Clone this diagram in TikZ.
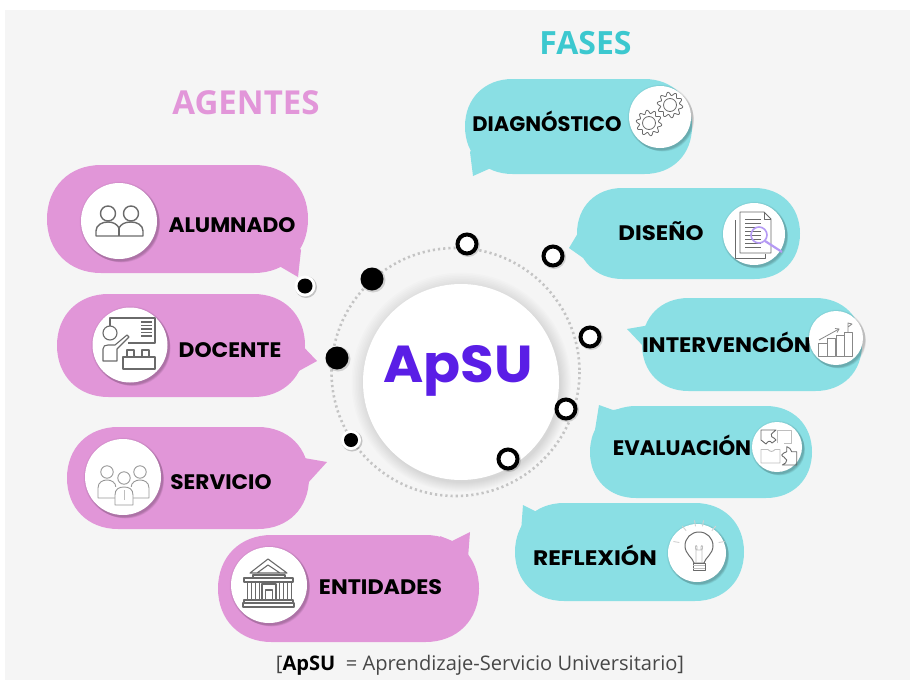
\documentclass[tikz,border=0pt]{standalone}
\usepackage{fontspec}
\setmainfont{Open Sans}
\newfontfamily\popp{Poppins}[UprightFont=* Bold,BoldFont=* Bold]
\usetikzlibrary{calc}
\definecolor{pinkb}{HTML}{E196D8}
\definecolor{tealb}{HTML}{8ADFE4}
\definecolor{pinkt}{HTML}{E296D9}
\definecolor{tealt}{HTML}{3CC8CF}
\definecolor{bgc}{HTML}{F5F5F5}
\definecolor{purp}{HTML}{5A1EE6}
\definecolor{icon}{HTML}{6A6A6A}
\definecolor{iconl}{HTML}{BEBEBE}
\definecolor{ringd}{HTML}{C4C4C4}
\tikzset{
  x=1pt,y=-1pt,
  bublab/.style={font=\popp\fontsize{21}{21}\selectfont,text=black,inner sep=0pt,anchor=base},
  ic/.style={draw=icon,line width=1.1pt,line join=round,fill=none},
  icl/.style={draw=iconl,line width=0.9pt,line join=round,fill=none},
  openring/.style={circle,draw=black,line width=4pt,fill=white,minimum size=19pt,inner sep=0pt},
  soliddot/.style={circle,fill=black,inner sep=0pt},
}
% pill: x1 y1 x2 y2 colour
\newcommand{\bubblebody}[5]{%
  \pgfmathsetmacro{\rr}{(#4-#2)/2}%
  \pgfmathsetmacro{\kk}{0.41*\rr}%
  \pgfmathsetmacro{\ym}{(#4+#2)/2}%
  \fill[#5] (#1+\rr,#2) -- (#3-\rr,#2)
    .. controls (#3-\kk,#2) and (#3,\ym-\rr+\kk) .. (#3,\ym)
    .. controls (#3,\ym+\rr-\kk) and (#3-\kk,#4) .. (#3-\rr,#4)
    -- (#1+\rr,#4)
    .. controls (#1+\kk,#4) and (#1,\ym+\rr-\kk) .. (#1,\ym)
    .. controls (#1,\ym-\rr+\kk) and (#1+\kk,#2) .. (#1+\rr,#2) -- cycle;}
% soft shadow: x y r spread opacity dx dy
\newcommand{\softshadow}[7]{%
  \foreach \k in {1,...,10}{
    \fill[black,opacity=#5] (#1+\k*#6/10,#2+\k*#7/10) circle ({#3+#4*(1-\k/10)});
  }}
\newcommand{\iconbase}[4]{% name x y r
  \softshadow{#2}{#3}{#4}{2}{0.022}{3}{3.5}
  \node[circle,fill=white,minimum size=#4*2 pt,inner sep=0pt] (#1) at (#2,#3) {};}
\begin{document}
\begin{tikzpicture}
\useasboundingbox (0,0) rectangle (910,680);
\fill[white] (0,0) rectangle (910,680);
\fill[bgc] (5,10) rectangle (910,680);
% ---- ring and centre
\draw[ringd,line width=2.6pt,dash pattern=on 2.2pt off 3pt] (455.5,372) circle (124);
\softshadow{461}{382}{98}{13}{0.011}{2}{3}
\node[circle,fill=white,minimum size=196pt,inner sep=0pt] (centre) at (461,382) {};
\node[font=\popp\fontsize{52}{52}\selectfont,text=purp,inner sep=0pt,anchor=base,xscale=1.05] (apsu) at (458,382) {ApSU};
% ---- dots
\fill[black,opacity=.15] (373,280) circle (12.5);
\node[soliddot,minimum size=23pt] (d1) at (372,279) {};
\fill[black,opacity=.15] (338,359) circle (12.5);
\node[soliddot,minimum size=23pt] (d2) at (337,358) {};
\fill[black,opacity=.2] (352,441) circle (10.5);
\node[circle,fill=white,minimum size=20pt,inner sep=0pt] (d3w) at (351,440) {};
\node[soliddot,minimum size=14pt] (d3) at (351,440) {};
\fill[black,opacity=.2] (306,287) circle (11);
\node[circle,fill=white,minimum size=21pt,inner sep=0pt] (d4w) at (305,286) {};
\node[soliddot,minimum size=15pt] (d4) at (305,286) {};
\foreach \nm/\ox/\oy in {o1/467/244,o2/553/256,o3/590/337,o4/566/409,o5/508/459}{
  \fill[black,opacity=.15] (\ox+1,\oy+1) circle (12);
  \node[openring] (\nm) at (\ox,\oy) {};
}
% ---- headings
\node[font=\bfseries\fontsize{33}{33}\selectfont,text=pinkt,inner sep=0pt] (agentes) at (246,103) {AGENTES};
\node[font=\bfseries\fontsize{32}{32}\selectfont,text=tealt,inner sep=0pt] (fases) at (585.5,43) {FASES};
\node[font=\fontsize{20.1}{20}\selectfont,text=black!72,inner sep=0pt] (cap) at (480,665) {[\textbf{\textcolor{black}{ApSU}}\ \ = Aprendizaje-Servicio Universitario]};
% ---- pink bubbles
\bubblebody{47}{165}{308}{273}{pinkb}
\fill[pinkb] (270,262) -- (280,266.5) -- (298,277) -- (301,250) -- (290,235) -- cycle;
\bubblebody{57}{294}{305}{397}{pinkb}
\fill[pinkb] (290,325) -- (297,340) -- (317,361) -- (297,372) -- (285,380) -- cycle;
\bubblebody{67}{427}{309}{529}{pinkb}
\fill[pinkb] (295,450) -- (304,458) -- (327,462) -- (307,484) -- (295,490) -- cycle;
\bubblebody{218}{535}{479}{642}{pinkb}
\fill[pinkb] (440,536) -- (452,541) -- (470,532) -- (468,558) -- (460,570) -- cycle;
% ---- teal bubbles
\bubblebody{465}{79}{692}{174}{tealb}
\fill[tealb] (480,140) -- (470,152) -- (473,176) -- (491,168) -- (505,165) -- cycle;
\bubblebody{577}{188}{800}{279}{tealb}
\fill[tealb] (597,210) -- (587,218) -- (569,248) -- (586,260) -- (595,265) -- cycle;
\bubblebody{642}{298}{862}{391}{tealb}
\fill[tealb] (665,320) -- (650,325) -- (627,329) -- (644,347) -- (655,360) -- cycle;
\bubblebody{590}{406}{812}{498}{tealb}
\fill[tealb] (625,408) -- (613,410) -- (599,405) -- (595,430) -- (605,440) -- cycle;
\bubblebody{515}{503}{744}{601}{tealb}
\fill[tealb] (550,506) -- (537,512) -- (523,505) -- (521,532) -- (530,540) -- cycle;
% ---- labels
\node[bublab,xscale=1.035] (l1) at (232,232) {ALUMNADO};
\node[bublab,xscale=1.04] (l2) at (230,357) {DOCENTE};
\node[bublab,xscale=1.03] (l3) at (221,489) {SERVICIO};
\node[bublab,xscale=1.06] (l4) at (380.5,594) {ENTIDADES};
\node[bublab] (l5) at (547,131) {DIAGNÓSTICO};
\node[bublab,xscale=1.09] (l6) at (661,240) {DISEÑO};
\node[bublab,xscale=1.08] (l7) at (726.5,352) {INTERVENCIÓN};
\node[bublab,xscale=1.01] (l8) at (682,455) {EVALUACIÓN};
\node[bublab,xscale=1.11] (l9) at (595,565) {REFLEXIÓN};
% ---- icon discs
\iconbase{i1}{119}{221}{38}
\iconbase{i2}{130}{345}{37.5}
\iconbase{i3}{123}{477}{38}
\iconbase{i4}{269}{585}{38}
\iconbase{i5}{660}{117}{31}
\iconbase{i6}{754}{234}{31}
\iconbase{i7}{836}{338}{27}
\iconbase{i8}{777}{447}{25}
\iconbase{i9}{697}{553}{29}
% alumnado icon
\begin{scope}[shift={(119,221)}]
  \draw[ic,line width=1.4pt] (-11,-7.5) circle (7.5) (12,-7.5) circle (7.5);
  \draw[ic,line width=1.4pt] (-23,15) -- (-23,10) .. controls (-23,4) and (-17,1) .. (-11,1) .. controls (-6,1) and (-2,3) .. (0,7) .. controls (2,3) and (6,1) .. (12,1) .. controls (18,1) and (24,4) .. (24,10) -- (24,15) -- cycle;
  \draw[ic,line width=1.4pt] (0,7) -- (0,15);
\end{scope}
% docente icon
\begin{scope}[shift={(130,345)}]
  \draw[ic] (-20,-19) -- (-20,-27) -- (25,-27) -- (25,-2) -- (-2,-2);
  \draw[ic] (11,-23) -- (22,-23) (11,-19.5) -- (22,-19.5) (11,-16) -- (22,-16) (11,-12.5) -- (22,-12.5) (11,-9) -- (22,-9);
  \draw[ic] (-20,-12) circle (7);
  \draw[ic] (-27,16) -- (-27,4) .. controls (-27,1) and (-25,0) .. (-22,0) -- (-15,0) -- (-3,-10) -- (-1,-8) -- (-13,4) -- (-13,16) -- cycle;
  \draw[ic] (-7,12) rectangle (25,24);
  \draw[ic] (-3,5) rectangle (4,12) (12,5) rectangle (19,12);
\end{scope}
% servicio icon
\begin{scope}[shift={(123,477)}]
  \foreach \dx in {-16,17}{
    \draw[icl,draw=icon!70] (\dx,-5) circle (6.2);
    \draw[icl,draw=icon!70] (\dx-9,21) -- (\dx-9,11) .. controls (\dx-9,5) and (\dx-4,3) .. (\dx,3) .. controls (\dx+4,3) and (\dx+9,5) .. (\dx+9,11) -- (\dx+9,21) -- cycle;
  }
  \fill[white] (-8,10) rectangle (10,30);
  \draw[icl,draw=icon!70,fill=white] (1,1) circle (6.2);
  \draw[icl,draw=icon!70,fill=white] (-8,28) -- (-8,18) .. controls (-8,12) and (-4,10) .. (1,10) .. controls (6,10) and (10,12) .. (10,18) -- (10,28) -- cycle;
  \draw[icl] (1,13) -- (1,23);
\end{scope}
% entidades icon
\begin{scope}[shift={(269,585)}]
  \draw[ic] (-19,-12) -- (-1,-26) -- (18,-12) -- cycle (-12,-12) -- (-1,-20) -- (11,-12);
  \draw[ic] (-16,-10) rectangle (16,-7);
  \draw[ic] (-25,-7) rectangle (24,-3);
  \draw[ic] (-22,-3) -- (22,-3);
  \foreach \cx in {-22,-18,-14,-10,10,14,18,22}{\draw[ic,line width=.9pt] (\cx,-3) -- (\cx,15);}
  \draw[ic] (-7,-1) rectangle (7,15);
  \draw[ic] (-3.5,5) rectangle (3.5,15);
  \draw[ic] (-25,15) rectangle (24,18);
  \draw[ic] (-26,18) rectangle (25,22);
\end{scope}
% diagnostico icon: gears
\foreach \gx/\gy in {649/123,670/105}{
  \draw[ic,line width=.8pt,shift={(\gx,\gy)}] plot[smooth,samples=145,domain=0:360] (\x:{11.2+1.7*sin(10*\x)});
  \draw[ic,line width=.8pt] (\gx,\gy) circle (6.5);
}
% diseno icon
\begin{scope}[shift={(754,234)}]
  \draw[ic,line width=.9pt,fill=white] (-19,-14) -- (-19,24) -- (11,24) -- (11,20);
  \draw[ic,line width=.9pt,fill=white] (-14,-22) -- (10,-22) -- (17,-15) -- (17,19) -- (-14,19) -- cycle;
  \draw[ic,line width=.9pt] (10,-22) -- (10,-15) -- (17,-15);
  \foreach \ly in {-15,-11,-7,-3,1,5,9,13}{\draw[ic,line width=.9pt] (-9,\ly) -- (7,\ly);}
  \draw[purp!45,line width=1.6pt] (5,1) circle (8);
  \draw[purp!45,line width=2.2pt] (11,7) -- (28,18);
\end{scope}
% intervencion icon
\begin{scope}[shift={(836,338)}]
  \draw[ic,draw=icon!80,line width=.8pt] (-18,18) rectangle (-9,5);
  \draw[ic,draw=icon!80,line width=.8pt] (-9,18) rectangle (-1,0);
  \draw[ic,draw=icon!80,line width=.8pt] (0,18) rectangle (8,-3);
  \draw[ic,draw=icon!80,line width=.8pt] (8,18) rectangle (16,-6);
  \draw[ic,draw=icon!80,line width=.8pt] (-17,2) -- (3,-9);
  \draw[ic,draw=icon!80,line width=.8pt] (-1,-9.5) -- (3,-9) -- (1,-5.5);
  \draw[ic,draw=icon!80,line width=.8pt] (12,-6) -- (12,-15) -- (16,-14) -- (12,-11);
\end{scope}
% evaluacion icon
\begin{scope}[shift={(777,447)}]
  \draw[icl] (0,-4) -- (0,-17) -- (14,-17) -- (14,-4) -- (7,-4);
  \draw[icl] (-16,2.5) -- (-9,2.5) .. controls (-7,5) and (-4,5) .. (-2,2.5) -- (3,2.5) -- (3,16) -- (-16,16) -- cycle;
  \draw[ic,line width=.9pt] (-16,-17) -- (-1,-17) .. controls (-6,-13) and (-7,-12) .. (-5.3,-10.3) .. controls (-4,-9) and (-2,-9) .. (-1,-7) -- (-5,-4) .. controls (-7,-7) and (-9,-6) .. (-11,-3) -- (-16,-7) -- cycle;
  \draw[ic,line width=.9pt] (9.7,-0.3) .. controls (12,0) and (14,2) .. (14.7,4.7) -- (19.7,4.7) -- (19.7,18) -- (5.3,18) .. controls (8,17) and (10,15) .. (9.7,13) .. controls (9,10) and (5,10) .. (4.7,8) .. controls (5,6) and (8,6) .. (9.7,4.7) -- cycle;
\end{scope}
% reflexion icon
\begin{scope}[shift={(697,553)}]
  \draw[ic,line width=1pt] (-3,10) .. controls (-4,5) and (-12,1) .. (-12,-7) .. controls (-12,-15) and (-6,-21) .. (2,-21) .. controls (10,-21) and (16,-15) .. (16,-7) .. controls (16,1) and (8,5) .. (7,10) -- cycle;
  \draw[ic,line width=1pt,fill=white] (-4,10) rectangle (8,17);
  \draw[iconl,line width=.9pt] (-4,12.5) -- (8,12.5) (-4,15) -- (8,15);
  \draw[icl] (-1,10) -- (-1,-3) .. controls (-3,-9) and (1,-9) .. (0,-3) -- (4,-3) .. controls (3,-9) and (7,-9) .. (5,-3) -- (5,10);
  \foreach \a in {-170,-130,-100,-80,-50,-10}{\draw[icl,draw=iconl!70] (2,-7) ++(\a:20) -- ++(\a:6);}
\end{scope}
\end{tikzpicture}
\end{document}
